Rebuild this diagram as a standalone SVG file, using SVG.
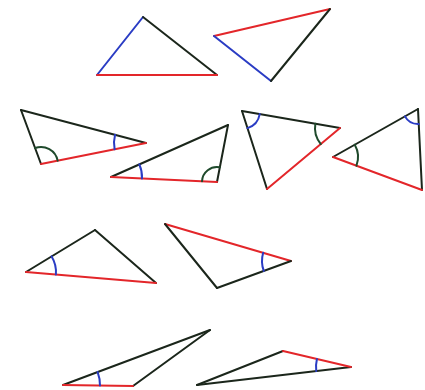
<svg xmlns="http://www.w3.org/2000/svg" width="425" height="390" viewBox="0 0 425 390">
<style>
line, path { fill: none; stroke-width: 2; stroke-linecap: round; }
.k { stroke: #1b261b; }
.r { stroke: #e3262a; }
.b { stroke: #2a3cc4; }
.g { stroke: #1f4a2c; }
</style>
<rect width="425" height="390" fill="#ffffff"/>
<g id="t1">
<line class="b" x1="143" y1="17" x2="97" y2="75"/>
<line class="k" x1="143" y1="17" x2="217" y2="75"/>
<line class="r" x1="97" y1="75" x2="217" y2="75"/>
</g>
<g id="t2">
<line class="r" x1="214" y1="36" x2="330" y2="9"/>
<line class="b" x1="214" y1="36" x2="271" y2="81"/>
<line class="k" x1="271" y1="81" x2="330" y2="9"/>
</g>
<g id="t3">
<line class="k" x1="21" y1="110" x2="146" y2="143"/>
<line class="k" x1="21" y1="110" x2="41" y2="164"/>
<line class="r" x1="41" y1="164" x2="146" y2="143"/>
<path class="g" d="M35.1 148.05 A17 17 0 0 1 57.67 160.67"/>
<path class="b" d="M115.06 134.83 A32 32 0 0 0 114.62 149.28"/>
</g>
<g id="t4">
<line class="k" x1="111" y1="177" x2="228" y2="125"/>
<line class="k" x1="228" y1="125" x2="217" y2="182"/>
<line class="r" x1="111" y1="177" x2="217" y2="182"/>
<path class="g" d="M219.84 167.27 A15 15 0 0 0 202.02 181.29"/>
<path class="b" d="M139.33 164.41 A31 31 0 0 1 141.97 178.46"/>
</g>
<g id="t5">
<line class="k" x1="242" y1="111" x2="340" y2="128"/>
<line class="k" x1="242" y1="111" x2="267" y2="189"/>
<line class="r" x1="267" y1="189" x2="340" y2="128"/>
<path class="b" d="M259.74 114.08 A18 18 0 0 1 247.49 128.14"/>
<path class="g" d="M315.37 123.73 A25 25 0 0 0 320.82 144.03"/>
</g>
<g id="t6">
<line class="k" x1="333" y1="157" x2="418" y2="109"/>
<line class="k" x1="418" y1="109" x2="422" y2="190"/>
<line class="r" x1="333" y1="157" x2="422" y2="190"/>
<path class="b" d="M404.94 116.38 A15 15 0 0 0 418.74 123.98"/>
<path class="g" d="M354.77 144.71 A25 25 0 0 1 356.44 165.69"/>
</g>
<g id="t7">
<line class="k" x1="26" y1="272" x2="95" y2="230"/>
<line class="k" x1="95" y1="230" x2="156" y2="283"/>
<line class="r" x1="26" y1="272" x2="156" y2="283"/>
<path class="b" d="M51.63 256.4 A30 30 0 0 1 55.89 274.53"/>
</g>
<g id="t8">
<line class="r" x1="165" y1="224" x2="291" y2="261"/>
<line class="k" x1="165" y1="224" x2="217" y2="288"/>
<line class="k" x1="217" y1="288" x2="291" y2="261"/>
<path class="b" d="M263.17 252.83 A29 29 0 0 0 263.76 270.94"/>
</g>
<g id="t9">
<line class="k" x1="63" y1="385" x2="210" y2="330"/>
<line class="k" x1="133" y1="386" x2="210" y2="330"/>
<line class="r" x1="63" y1="385" x2="133" y2="386"/>
<path class="b" d="M97.65 372.03 A37 37 0 0 1 99.99 385.53"/>
</g>
<g id="t10">
<line class="k" x1="197" y1="385" x2="283" y2="351"/>
<line class="k" x1="197" y1="385" x2="351" y2="367"/>
<line class="r" x1="283" y1="351" x2="351" y2="367"/>
<path class="b" d="M316.93 358.98 A35 35 0 0 0 316.24 371.06"/>
</g>
<g id="connectors"></g>
</svg>
